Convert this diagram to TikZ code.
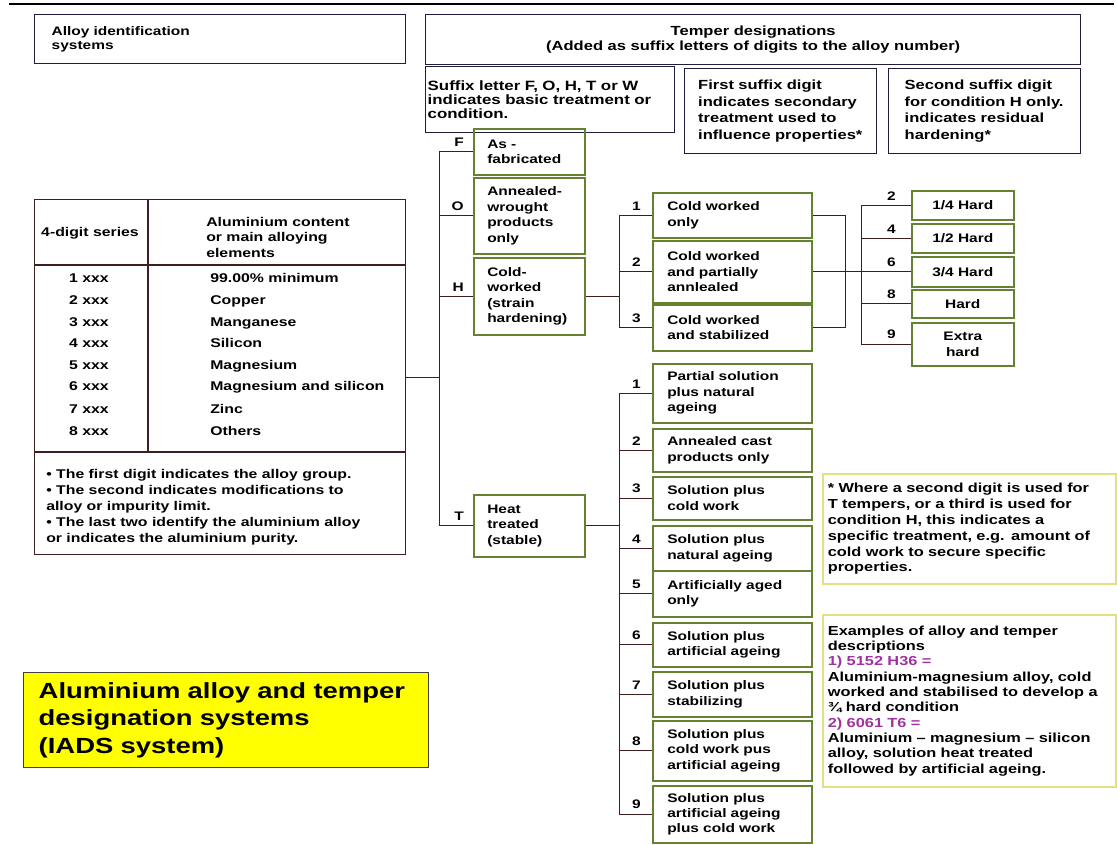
\documentclass[tikz,border=0pt]{standalone}
\usepackage{fontspec}
\setmainfont{Liberation Sans}[FakeStretch=1.25]
\usepackage{xcolor}
\usepackage{tikz}
\usetikzlibrary{positioning}
\definecolor{frame}{RGB}{30, 30, 60}
\definecolor{branch}{RGB}{65, 30, 30}
\definecolor{leaf}{RGB}{100, 130, 50}
\definecolor{memo}{RGB}{225, 225, 130}
\definecolor{sample}{RGB}{160, 50, 160}
\definecolor{banner}{RGB}{255, 255, 0}
\newlength{\px}
\setlength{\px}{0.025cm}
\tikzstyle{header} = [rectangle, draw=frame, line width=1pt, anchor=north west, font=\fontsize{9.4}{10.6}\selectfont\bfseries]
\tikzstyle{basic} = [rectangle, draw=leaf, line width=1.1pt, anchor=north west, align=left, minimum width=111\px, text width=84\px, inner xsep=13.5\px, font=\fontsize{8.8}{11}\selectfont\bfseries]
\tikzstyle{process} = [basic, minimum width=159\px, text width=130\px, inner xsep=14.5\px]
\tikzstyle{hardness} = [rectangle, draw=leaf, line width=1.1pt, anchor=north west, align=center, minimum width=102\px, font=\fontsize{8.8}{11}\selectfont\bfseries]
\tikzstyle{cell} = [inner sep=0pt, font=\fontsize{9}{11}\selectfont\bfseries]
\tikzstyle{entry} = [cell, text height=6.4pt, text depth=1.8pt]
\tikzstyle{letter} = [inner sep=0pt, font=\fontsize{8.8}{11}\selectfont\bfseries]
\tikzstyle{link} = [draw=branch, line width=1pt]
\tikzstyle{remark} = [rectangle, draw=memo, line width=1.2pt, anchor=north west, align=left, minimum width=293\px, text width=283\px, inner xsep=5\px, font=\fontsize{9.3}{11.3}\selectfont\bfseries]
\tikzstyle{headline} = [rectangle, draw=black!75, fill=banner, line width=1pt, anchor=north west, align=left, minimum width=405\px, minimum height=95\px, text width=375\px, inner xsep=15\px, font=\fontsize{15.6}{19.8}\selectfont\bfseries]

\begin{document}
\begin{tikzpicture}[x=0.025cm, y=-0.025cm]
    \useasboundingbox (0,0) rectangle (1117,844);
    \draw[line width=1.2pt] (9,4) -- (1114,4);

    % Headings
    \node[header, minimum width=371\px, minimum height=49\px, text width=337\px, inner xsep=17\px, align=left, font=\fontsize{8.8}{10}\selectfont\bfseries] (alloyid) at (34,14) {Alloy identification\\systems};
    \node[header, minimum width=655\px, minimum height=50\px, align=center] (temper) at (425,14) {Temper designations\\(Added as suffix letters of digits to the alloy number)};
    \node[header, minimum width=249\px, minimum height=66\px, text width=245\px, inner xsep=2\px, align=left, font=\fontsize{9.6}{10}\selectfont\bfseries] (suffix) at (425,66) {Suffix letter F, O, H, T or W\\indicates basic treatment or\\condition.};
    \node[header, minimum width=192\px, minimum height=85\px, text width=174\px, inner xsep=9\px, align=left, font=\fontsize{9.4}{11.7}\selectfont\bfseries] (firstdigit) at (684,68) {\hspace*{4.5\px}First suffix digit\\\hspace*{4.5\px}indicates secondary\\\hspace*{4.5\px}treatment used to\\\hspace*{4.5\px}influence properties*};
    \node[header, minimum width=192\px, minimum height=85\px, text width=172\px, inner xsep=10\px, align=left, font=\fontsize{9.4}{11.7}\selectfont\bfseries] (seconddigit) at (888,68) {\hspace*{6\px}Second suffix digit\\\hspace*{6\px}for condition H only.\\\hspace*{6\px}indicates residual\\\hspace*{6\px}hardening*};

    % Alloy series table
    \node[rectangle, draw=branch, line width=1pt, anchor=north west, minimum width=371\px, minimum height=355\px] (series) at (34,199) {};
    \draw[link] ([xshift=114\px]series.north west) -- ++(0,253);
    \draw[link] ([yshift=-66\px]series.north west) -- ([yshift=-66\px]series.north east);
    \draw[link] ([yshift=-253\px]series.north west) -- ([yshift=-253\px]series.north east);
    \node[cell] (digits) at (90,233) {4-digit series};
    \node[cell, anchor=west, align=left] (content) at (206,237) {Aluminium content\\or main alloying\\elements};
    \node[entry] (s1) at (89,279) {1 xxx};
    \node[entry, anchor=west] (e1) at (210,279) {99.00\% minimum};
    \node[entry] (s2) at (89,301) {2 xxx};
    \node[entry, anchor=west] (e2) at (210,301) {Copper};
    \node[entry] (s3) at (89,323) {3 xxx};
    \node[entry, anchor=west] (e3) at (210,323) {Manganese};
    \node[entry] (s4) at (89,344) {4 xxx};
    \node[entry, anchor=west] (e4) at (210,344) {Silicon};
    \node[entry] (s5) at (89,366) {5 xxx};
    \node[entry, anchor=west] (e5) at (210,366) {Magnesium};
    \node[entry] (s6) at (89,387) {6 xxx};
    \node[entry, anchor=west] (e6) at (210,387) {Magnesium and silicon};
    \node[entry] (s7) at (89,410) {7 xxx};
    \node[entry, anchor=west] (e7) at (210,410) {Zinc};
    \node[entry] (s8) at (89,432) {8 xxx};
    \node[entry, anchor=west] (e8) at (210,432) {Others};
    \node[cell, anchor=west, align=left, font=\fontsize{9}{11.3}\selectfont\bfseries] (notes) at (46,507) {• The first digit indicates the alloy group.\\• The second indicates modifications to\\alloy or impurity limit.\\• The last two identify the aluminium alloy\\or indicates the aluminium purity.};

    % Title
    \node[headline] (iads) at (23,672) {Aluminium alloy and temper\\designation systems\\(IADS system)};

    % Basic treatment
    \coordinate[right=33\px of series.east] (trunk);
    \node[basic, minimum height=46\px] (fab) at (473,128) {As -\\fabricated};
    \node[basic, minimum height=76\px] (anneal) at (473,177) {Annealed-\\wrought\\products\\only};
    \node[basic, minimum height=77\px] (cold) at (473,257) {Cold-\\worked\\(strain\\hardening)};
    \node[basic, minimum height=62\px] (heat) at (473,494) {Heat\\treated\\(stable)};
    \node[letter, above left=5\px and 9\px of fab.west] (lf) {F};
    \node[letter, above left=5\px and 9\px of anneal.west] (lo) {O};
    \node[letter, above left=5\px and 9\px of cold.west] (lh) {H};
    \node[letter, above left=5\px and 9\px of heat.west] (lt) {T};
    \draw[link] (series.east) -- (trunk);
    \draw[link] (trunk) |- (fab.west);
    \draw[link] (trunk) |- (anneal.west);
    \draw[link] (trunk) |- (cold.west);
    \draw[link] (trunk) |- (heat.west);

    % Cold worked
    \coordinate[right=34\px of cold.east] (hsplit);
    \node[process, minimum height=45\px] (cw1) at (652,192) {Cold worked\\only};
    \node[process, minimum height=62\px] (cw2) at (652,240) {Cold worked\\and partially\\annlealed};
    \node[process, minimum height=46\px] (cw3) at (652,304) {Cold worked\\and stabilized};
    \node[letter, above left=5\px and 11\px of cw1.west] (lh1) {1};
    \node[letter, above left=5\px and 11\px of cw2.west] (lh2) {2};
    \node[letter, above left=5\px and 11\px of cw3.west] (lh3) {3};
    \draw[link] (cold.east) -- (hsplit);
    \draw[link] (hsplit) |- (cw1.west);
    \draw[link] (hsplit) |- (cw2.west);
    \draw[link] (hsplit) |- (cw3.west);
    \draw[link] (cw1.east) -- ++(33,0) |- (cw3.east);

    % Residual hardening
    \coordinate[right=49\px of cw2.east] (hardsplit);
    \node[hardness, minimum height=29\px] (h2) at (911,190) {1/4 Hard};
    \node[hardness, minimum height=29\px] (h4) at (911,223) {1/2 Hard};
    \node[hardness, minimum height=30\px] (h6) at (911,256) {3/4 Hard};
    \node[hardness, minimum height=28\px] (h8) at (911,289) {Hard};
    \node[hardness, minimum height=43\px] (h9) at (911,322) {Extra\\hard};
    \node[letter, above left=5\px and 15\px of h2.west] (lr2) {2};
    \node[letter, above left=5\px and 15\px of h4.west] (lr4) {4};
    \node[letter, above left=5\px and 15\px of h6.west] (lr6) {6};
    \node[letter, above left=5\px and 15\px of h8.west] (lr8) {8};
    \node[letter, above left=5\px and 15\px of h9.west] (lr9) {9};
    \draw[link] (cw2.east) -- (hardsplit);
    \draw[link] (hardsplit) |- (h2.west);
    \draw[link] (hardsplit) |- (h4.west);
    \draw[link] (hardsplit) |- (h6.west);
    \draw[link] (hardsplit) |- (h8.west);
    \draw[link] (hardsplit) |- (h9.west);

    % Heat treated
    \coordinate[right=34\px of heat.east] (tsplit);
    \node[process, minimum height=59\px] (t1) at (652,363) {Partial solution\\plus natural\\ageing};
    \node[process, minimum height=43\px] (t2) at (652,428) {Annealed cast\\products only};
    \node[process, minimum height=43\px] (t3) at (652,476) {Solution plus\\cold work};
    \node[process, minimum height=45\px] (t4) at (652,525) {Solution plus\\natural ageing};
    \node[process, minimum height=46\px] (t5) at (652,570) {Artificially aged\\only};
    \node[process, minimum height=44\px] (t6) at (652,622) {Solution plus\\artificial ageing};
    \node[process, minimum height=45\px] (t7) at (652,671) {Solution plus\\stabilizing};
    \node[process, minimum height=60\px] (t8) at (652,720) {Solution plus\\cold work pus\\artificial ageing};
    \node[process, minimum height=57\px] (t9) at (652,785) {Solution plus\\artificial ageing\\plus cold work};
    \node[letter, above left=5\px and 11\px of t1.west] (lt1) {1};
    \node[letter, above left=5\px and 11\px of t2.west] (lt2) {2};
    \node[letter, above left=5\px and 11\px of t3.west] (lt3) {3};
    \node[letter, above left=5\px and 11\px of t4.west] (lt4) {4};
    \node[letter, above left=5\px and 11\px of t5.west] (lt5) {5};
    \node[letter, above left=5\px and 11\px of t6.west] (lt6) {6};
    \node[letter, above left=5\px and 11\px of t7.west] (lt7) {7};
    \node[letter, above left=5\px and 11\px of t8.west] (lt8) {8};
    \node[letter, above left=5\px and 11\px of t9.west] (lt9) {9};
    \draw[link] (heat.east) -- (tsplit);
    \draw[link] (tsplit) |- (t1.west);
    \draw[link] (tsplit) |- (t2.west);
    \draw[link] (tsplit) |- (t3.west);
    \draw[link] (tsplit) |- (t4.west);
    \draw[link] (tsplit) |- (t5.west);
    \draw[link] (tsplit) |- (t6.west);
    \draw[link] (tsplit) |- (t7.west);
    \draw[link] (tsplit) |- (t8.west);
    \draw[link] (tsplit) |- (t9.west);

    % Remarks
    \node[remark, minimum height=110\px] (footnote) at (822,473) {* Where a second digit is used for\\T tempers, or a third is used for\\condition H, this indicates a\\specific treatment, e.g. amount of\\cold work to secure specific\\properties.};
    \node[remark, minimum height=172\px, font=\fontsize{9.3}{10.9}\selectfont\bfseries] (examples) at (822,614) {Examples of alloy and temper\\descriptions\\{\color{sample}1) 5152 H36 =}\\Aluminium-magnesium alloy, cold\\worked and stabilised to develop a\\¾ hard condition\\{\color{sample}2) 6061 T6 =}\\Aluminium – magnesium – silicon\\alloy, solution heat treated\\followed by artificial ageing.};
\end{tikzpicture}
\end{document}
